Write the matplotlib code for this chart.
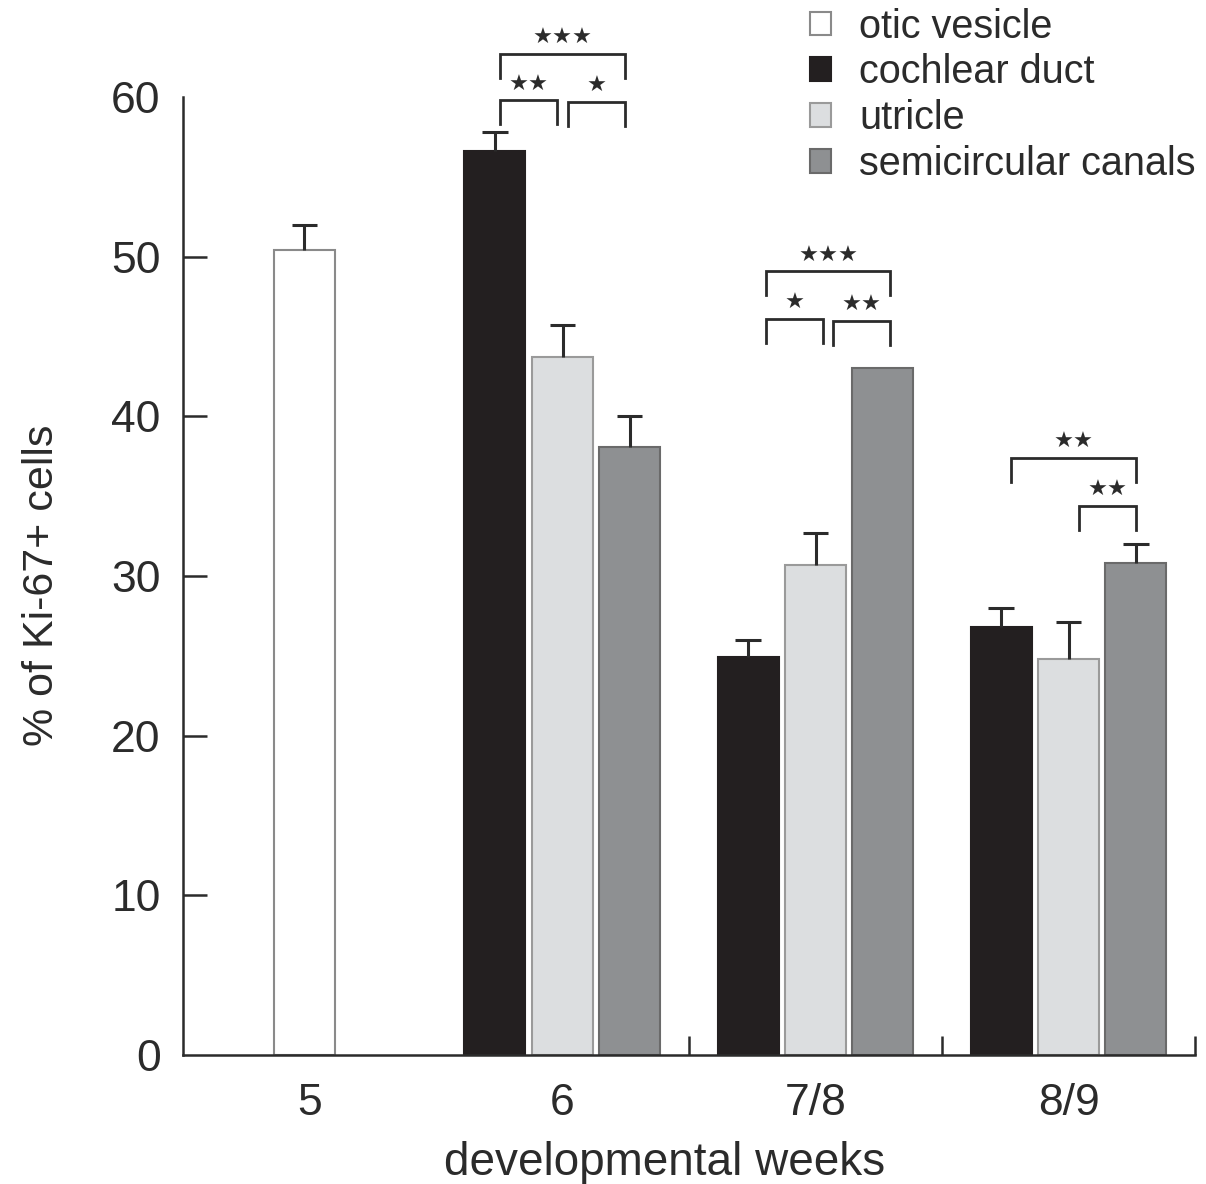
import numpy as np
import matplotlib
matplotlib.use("Agg")
import matplotlib.pyplot as plt
from matplotlib.patches import Patch

plt.rcParams['font.family'] = ['Liberation Sans', 'DejaVu Sans']

groups = ['5', '6', '7/8', '8/9']
nan = np.nan

otic = [50.4, nan, nan, nan]
otic_err = [1.6, nan, nan, nan]
cochlear = [nan, 56.6, 24.9, 26.8]
cochlear_err = [nan, 1.2, 1.1, 1.2]
utricle = [nan, 43.7, 30.7, 24.8]
utricle_err = [nan, 2.0, 2.0, 2.3]
canals = [nan, 38.1, 43.0, 30.8]
canals_err = [nan, 1.9, nan, 1.2]

# (group, bar a, bar b, level, stars)  bar index: 0 cochlear, 1 utricle, 2 canals
sig = [
    (1, 0, 2, 62.7, '★★★'),
    (1, 0, 1, 59.8, '★★'),
    (1, 1, 2, 59.7, '★'),
    (2, 0, 2, 49.1, '★★★'),
    (2, 0, 1, 46.1, '★'),
    (2, 1, 2, 46.0, '★★'),
    (3, 0, 2, 37.4, '★★'),
    (3, 1, 2, 34.4, '★★'),
]
nudge = [0, 0, 0.05, 0.02]

ink = '#2b2b2b'
series = [
    ('otic vesicle', otic, otic_err, -0.02, '#ffffff', '#8a8a8a'),
    ('cochlear duct', cochlear, cochlear_err, -0.267, '#231f20', '#231f20'),
    ('utricle', utricle, utricle_err, 0.0, '#dcdee0', '#9a9a9a'),
    ('semicircular canals', canals, canals_err, 0.266, '#8e9092', '#6a6a6a'),
]
width = 0.241

fig = plt.figure(figsize=(12.06, 11.84), dpi=100)
ax = fig.add_axes([0.1517, 0.109, 0.8393, 0.809])

x = np.arange(len(groups))
handles = []
for name, vals, errs, off, fc, ec in series:
    vals = np.array(vals, float)
    errs = np.array(errs, float)
    pos = x + off
    m = ~np.isnan(vals)
    ax.bar(pos[m], vals[m], width, color=fc, edgecolor=ec, linewidth=1.5, zorder=2)
    e = m & ~np.isnan(errs)
    top = vals[e] + errs[e]
    ax.vlines(pos[e], vals[e], top, color=ink, linewidth=2.2, zorder=3)
    ax.hlines(top, pos[e] - 0.05, pos[e] + 0.05, color=ink, linewidth=2.2, zorder=3)
    handles.append(Patch(facecolor=fc, edgecolor=ec, linewidth=1.5, label=name))

offs = [-0.267, 0.0, 0.266]
for g, a, b, lvl, txt in sig:
    xa = g + offs[a] + 0.02 + nudge[g]
    xb = g + offs[b] - 0.02 + nudge[g]
    ax.plot([xa, xa, xb, xb], [lvl - 1.5, lvl, lvl, lvl - 1.5], color=ink,
            linewidth=2.0, clip_on=False, solid_joinstyle='miter', zorder=4)
    ax.text((xa + xb) / 2, lvl + 0.35, txt, ha='center', va='bottom', fontsize=16,
            color=ink, family='DejaVu Sans', clip_on=False)

ax.set_xlim(-0.5, 3.5)
ax.set_ylim(0, 60)
ax.set_yticks(np.arange(0, 61, 10))
ax.set_xticks(x)
ax.set_xticklabels(groups)
ax.set_xticks([1.5, 2.5, 3.5], minor=True)
ax.tick_params(axis='x', which='major', length=0, pad=20, labelsize=32, labelcolor=ink)
ax.tick_params(axis='x', which='minor', direction='in', length=14, width=1.8, color=ink)
ax.tick_params(axis='y', direction='in', length=17, width=1.8, color=ink, pad=16,
               labelsize=32, labelcolor=ink)
yt = ax.yaxis.get_major_ticks()
yt[0].tick1line.set_visible(False)
yt[-1].tick1line.set_visible(False)

for s in ['top', 'right']:
    ax.spines[s].set_visible(False)
for s in ['left', 'bottom']:
    ax.spines[s].set_linewidth(1.8)
    ax.spines[s].set_color(ink)

ax.set_ylabel('% of Ki-67+ cells', fontsize=31, color=ink)
ax.yaxis.set_label_coords(-0.119, 0.49)
ax.set_xlabel('developmental weeks', fontsize=33, color=ink)
ax.xaxis.set_label_coords(0.476, -0.09)

fig.legend(handles=handles, loc='upper left', bbox_to_anchor=(0.668, 0.997),
           frameon=False, fontsize=28.5, handlelength=0.55, handleheight=0.55,
           handletextpad=0.7, labelspacing=0.2, borderpad=0.1, borderaxespad=0,
           labelcolor=ink)

fig.savefig('out.png', dpi=100)
